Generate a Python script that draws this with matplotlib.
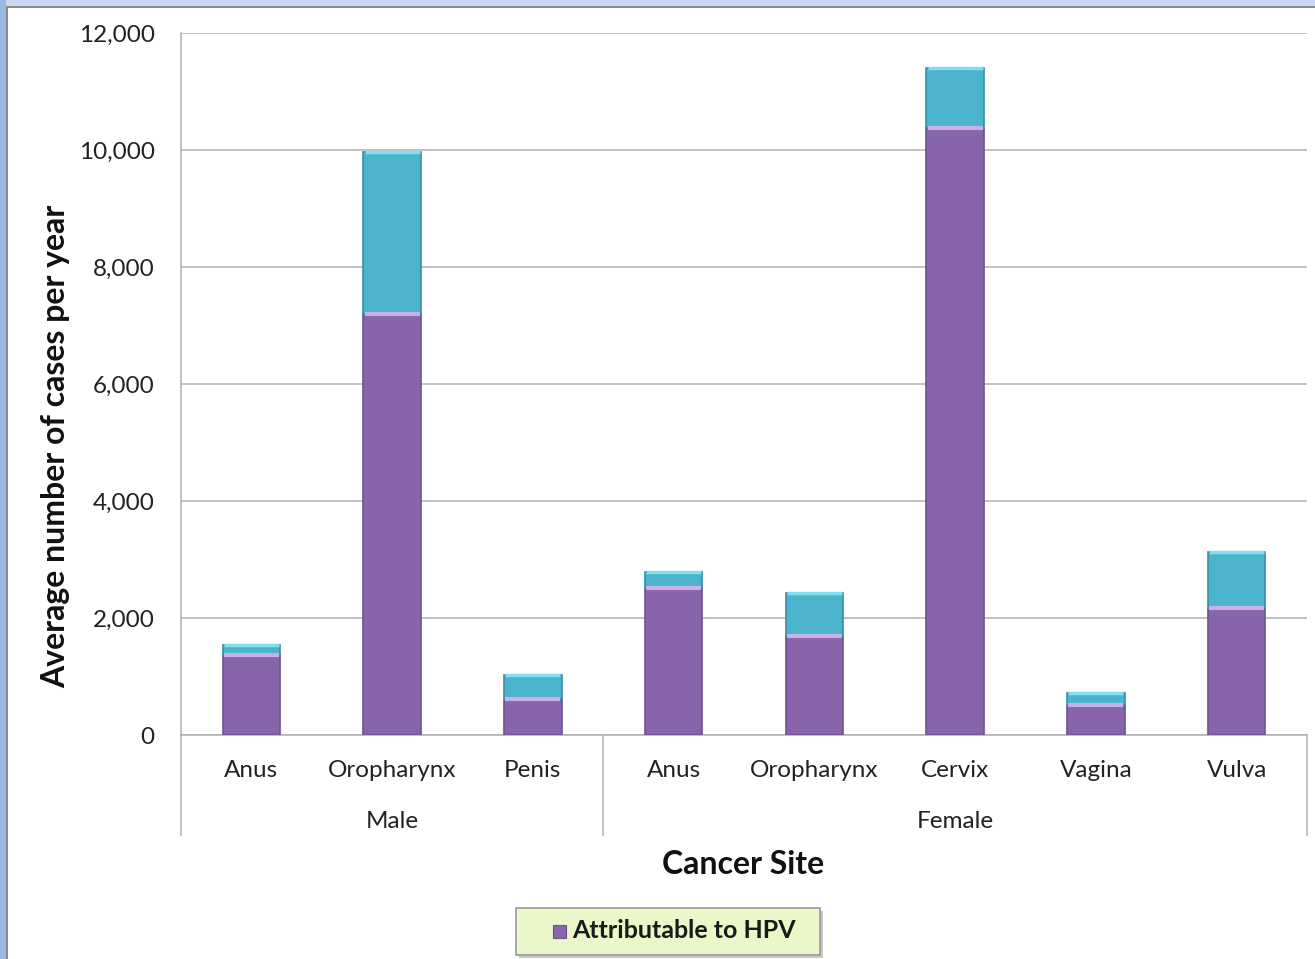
import matplotlib
matplotlib.use("Agg")
import matplotlib.pyplot as plt
from matplotlib.patches import Rectangle
from matplotlib.ticker import FuncFormatter

# ---- data ----
sites = ["Anus", "Oropharynx", "Penis", "Anus", "Oropharynx", "Cervix", "Vagina", "Vulva"]
groups = ["Male", "Female"]
group_sizes = [3, 5]
hpv_cases = [1370, 7200, 620, 2510, 1700, 10380, 520, 2170]
total_cases = [1530, 9970, 1030, 2790, 2430, 11400, 720, 3130]
not_hpv = [t - h for t, h in zip(total_cases, hpv_cases)]
yticks = [0, 2000, 4000, 6000, 8000, 10000, 12000]

plt.rcParams['font.family'] = ['Lato', 'DejaVu Sans']

W, H = 1315, 959
fig = plt.figure(figsize=(W / 100, H / 100), dpi=100)
fig.patch.set_facecolor("white")

# light blue frame on top and left edges, with a gray shadow line
fig.patches.append(Rectangle((0, 1 - 6 / H), 1, 6 / H, transform=fig.transFigure,
                             facecolor="#c9d8f0", edgecolor="none", zorder=0))
fig.patches.append(Rectangle((0, 0), 6 / W, 1, transform=fig.transFigure,
                             facecolor="#9db8e2", edgecolor="none", zorder=0))
fig.patches.append(Rectangle((6 / W, 1 - 8 / H), 1, 2 / H, transform=fig.transFigure,
                             facecolor="#8a8a8a", edgecolor="none", zorder=0))
fig.patches.append(Rectangle((6 / W, 0), 2 / W, 1 - 6 / H, transform=fig.transFigure,
                             facecolor="#8a8a8a", edgecolor="none", zorder=0))

ax = fig.add_axes([181 / W, 1 - 735 / H, (1307 - 181) / W, (735 - 33) / H])
x = list(range(len(sites)))
purple = "#8864aa"
cyan = "#4bb3cc"
bw = 0.41
ax.bar(x, hpv_cases, width=bw, color=purple, edgecolor="#6e5290", linewidth=1.2, zorder=3)
ax.bar(x, not_hpv, width=bw, bottom=hpv_cases, color=cyan, edgecolor="#3a8fa6", linewidth=1.2, zorder=3)
# light highlight strips at segment tops
ax.hlines(hpv_cases, [i - bw / 2 + 0.01 for i in x], [i + bw / 2 - 0.01 for i in x],
          color="#c6b2e6", linewidth=3, zorder=4)
ax.hlines(total_cases, [i - bw / 2 + 0.01 for i in x], [i + bw / 2 - 0.01 for i in x],
          color="#7fe0ef", linewidth=2.5, zorder=4)

ax.set_xlim(-0.5, len(sites) - 0.5)
ax.set_ylim(0, 12000)
ax.set_yticks(yticks)
ax.yaxis.set_major_formatter(FuncFormatter(lambda v, p: f"{int(v):,}"))
ax.tick_params(axis="y", length=0, pad=19, labelsize=17.5, labelcolor="#222222")
ax.grid(axis="y", color="#b0b0b0", linewidth=1.1, zorder=0)
ax.set_axisbelow(True)
for s in ["top", "right"]:
    ax.spines[s].set_visible(False)
ax.spines["left"].set_color("#b0b0b0")
ax.spines["bottom"].set_color("#b0b0b0")
ax.spines["left"].set_linewidth(1.1)
ax.spines["bottom"].set_linewidth(1.1)

ax.set_xticks(x)
ax.set_xticklabels(sites, fontsize=17.5, color="#222222")
ax.tick_params(axis="x", length=0, pad=18)

# group separators and labels
trans = ax.get_xaxis_transform()
bound = -0.5
sep_bottom = -(835 - 735) / (735 - 33)
ax.plot([bound, bound], [0, sep_bottom], transform=trans, color="#b0b0b0", lw=1.1, clip_on=False)
for g, n in zip(groups, group_sizes):
    center = bound + n / 2
    ax.text(center, -(822 - 735) / (735 - 33), g, transform=trans, ha="center", va="center",
            fontsize=17.5, color="#222222")
    bound += n
    ax.plot([bound, bound], [0, sep_bottom], transform=trans, color="#b0b0b0", lw=1.1, clip_on=False)

fig.text(56 / W, 1 - 446 / H, "Average number of cases per year", rotation=90,
         ha="center", va="center", fontsize=23, fontweight="bold", color="#111111")
fig.text(743 / W, 1 - 864 / H, "Cancer Site", ha="center", va="center", fontsize=23,
         fontweight="bold", color="#111111")

# legend box
lx0, ly0, lx1, ly1 = 516, 908, 820, 955
fig.patches.append(Rectangle((lx0 / W + 0.002, 1 - ly1 / H - 0.003), (lx1 - lx0) / W, (ly1 - ly0) / H,
                             transform=fig.transFigure, facecolor="#c8c8c8", edgecolor="none", zorder=5))
fig.patches.append(Rectangle((lx0 / W, 1 - ly1 / H), (lx1 - lx0) / W, (ly1 - ly0) / H,
                             transform=fig.transFigure, facecolor="#eaf7c8", edgecolor="#9a9a9a",
                             linewidth=1.2, zorder=6))
fig.patches.append(Rectangle((553 / W, 1 - 938 / H), 13 / W, 13 / H, transform=fig.transFigure,
                             facecolor=purple, edgecolor="#6e5290", linewidth=0.8, zorder=7))
fig.text(572 / W, 1 - 931 / H, "Attributable to HPV", ha="left", va="center",
         fontsize=18, fontweight="bold", color="#1a1a1a", zorder=8)

fig.savefig("out.png", dpi=100)
